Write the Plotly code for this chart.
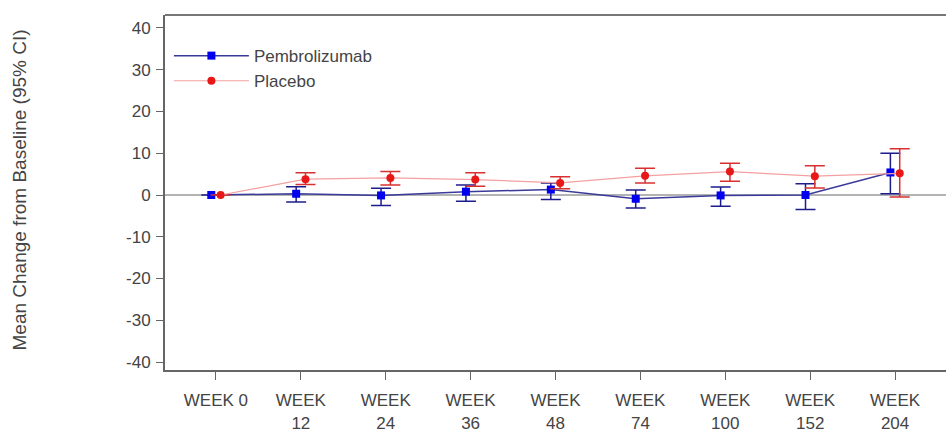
import plotly.graph_objects as go

# Visit labels along the x axis
visits = ["WEEK 0", "WEEK<br>12", "WEEK<br>24", "WEEK<br>36", "WEEK<br>48",
          "WEEK<br>74", "WEEK<br>100", "WEEK<br>152", "WEEK<br>204"]

# Y axis ticks and their labels (plain hyphen for negatives)
y_ticks = [-40, -30, -20, -10, 0, 10, 20, 30, 40]
y_labels = ["-40", "-30", "-20", "-10", "0", "10", "20", "30", "40"]

# Pembrolizumab: mean change and 95% CI bounds
pembro_mean = [0.0, 0.3, -0.1, 0.8, 1.3, -0.9, -0.1, 0.0, 5.4]
pembro_upper = [0.0, 2.0, 1.6, 2.4, 2.9, 1.2, 1.9, 2.7, 10.0]
pembro_lower = [0.0, -1.7, -2.5, -1.5, -1.1, -3.1, -2.7, -3.5, 0.3]

# Placebo: mean change and 95% CI bounds
placebo_mean = [0.0, 3.8, 4.1, 3.7, 2.9, 4.6, 5.6, 4.5, 5.2]
placebo_upper = [0.0, 5.3, 5.6, 5.3, 4.4, 6.4, 7.6, 7.0, 11.1]
placebo_lower = [0.0, 2.5, 2.4, 2.1, 1.5, 2.9, 3.3, 1.7, -0.5]

dodge = 0.055
FONT = "Liberation Sans, Arial, sans-serif"
TXT = "#444444"

idx = list(range(len(visits)))

def ci(mean, upper, lower):
    plus = [u - m for u, m in zip(upper, mean)]
    minus = [m - l for m, l in zip(mean, lower)]
    return plus, minus

fig = go.Figure()

p_plus, p_minus = ci(pembro_mean, pembro_upper, pembro_lower)
fig.add_trace(go.Scatter(
    x=[i - dodge for i in idx], y=pembro_mean, name="Pembrolizumab",
    mode="lines+markers",
    line=dict(color="#3a3a9a", width=1.5),
    marker=dict(symbol="square", size=8, color="#0000ee"),
    error_y=dict(type="data", array=p_plus, arrayminus=p_minus,
                 color="#1c1c8c", thickness=1.5, width=10),
))

c_plus, c_minus = ci(placebo_mean, placebo_upper, placebo_lower)
fig.add_trace(go.Scatter(
    x=[i + dodge for i in idx], y=placebo_mean, name="Placebo",
    mode="lines+markers",
    line=dict(color="#f4a0a0", width=1.2),
    marker=dict(symbol="circle", size=8, color="#e81818"),
    error_y=dict(type="data", array=c_plus, arrayminus=c_minus,
                 color="#d83030", thickness=1.5, width=10),
))

# Zero reference line
fig.add_shape(type="line", xref="paper", yref="y", x0=0, x1=1, y0=0, y1=0,
              line=dict(color="#9a9a9a", width=1.5), layer="below")

# Top frame line
fig.add_shape(type="line", xref="paper", yref="paper", x0=0, x1=1, y0=1, y1=1,
              line=dict(color="#777777", width=2))

fig.add_annotation(
    text="Mean Change from Baseline (95% CI)", textangle=-90,
    xref="paper", yref="paper", x=(20 - 165) / 781, y=(433 - 60 - 192) / 358,
    xanchor="center", yanchor="middle", showarrow=False,
    font=dict(family=FONT, size=19, color=TXT),
)

fig.update_layout(
    width=946, height=433,
    margin=dict(l=165, r=0, t=15, b=60),
    paper_bgcolor="white", plot_bgcolor="white",
    font=dict(family=FONT, size=17, color=TXT),
    showlegend=True,
    legend=dict(x=0.005, y=0.935, xanchor="left", yanchor="top",
                bgcolor="rgba(0,0,0,0)", font=dict(size=17, color=TXT),
                itemwidth=75, tracegroupgap=0),
    xaxis=dict(
        range=[-0.6, 8.6], tickmode="array", tickvals=idx, ticktext=visits,
        showline=True, linecolor="#666666", linewidth=2,
        ticks="outside", ticklen=8, tickcolor="#666666",
        ticklabelstandoff=6,
        showgrid=False, zeroline=False,
    ),
    yaxis=dict(
        range=[-41.9, 43.1], tickmode="array",
        tickvals=y_ticks, ticktext=y_labels,
        showline=True, linecolor="#666666", linewidth=2,
        ticks="outside", ticklen=7, tickcolor="#666666",
        ticklabelstandoff=2,
        showgrid=False, zeroline=False,
    ),
)

fig.write_html("out.html")
